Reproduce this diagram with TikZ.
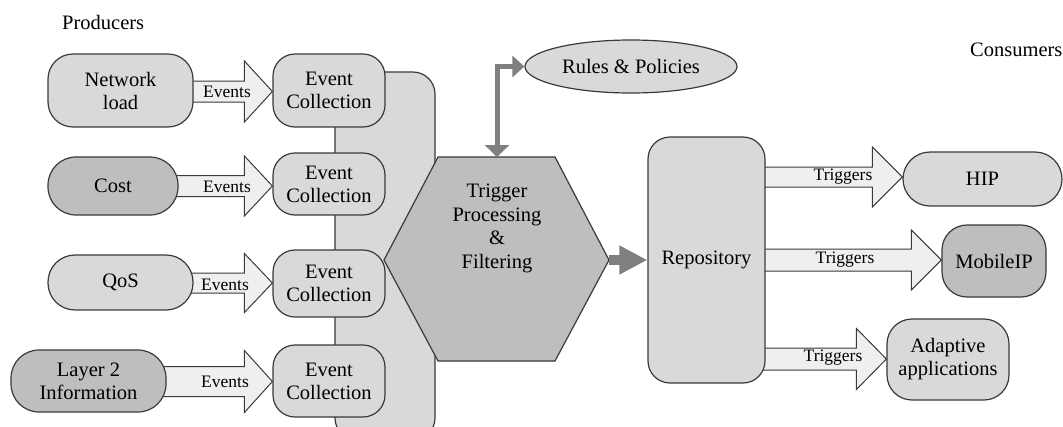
\documentclass[tikz,border=0pt]{standalone}
\usepackage{fontspec}
\setmainfont{Liberation Serif}
\usetikzlibrary{arrows.meta,shapes.geometric,calc}
\pgfdeclarelayer{bg}
\pgfsetlayers{bg,main}
\definecolor{lightfill}{HTML}{D9D9D9}
\definecolor{darkfill}{HTML}{BEBEBE}
\definecolor{arrfill}{HTML}{EFEFEF}
\definecolor{edgecol}{HTML}{3A3A3A}
\definecolor{flowcol}{HTML}{7F7F7F}
% block arrow: #1 from node, #2 to node, #3 y centre, #4 shaft half, #5 head half, #6 head length
\newcommand{\blockarr}[6]{%
 \draw[barrow] let \p1=(#1.east), \p2=(#2.west) in
 ({\x1-6pt},{-(#3-#4)*1pt}) -- ({\x2-#6*1pt},{-(#3-#4)*1pt}) -- ({\x2-#6*1pt},{-(#3-#5)*1pt})
 -- (\x2,{-#3*1pt}) -- ({\x2-#6*1pt},{-(#3+#5)*1pt}) -- ({\x2-#6*1pt},{-(#3+#4)*1pt})
 -- ({\x1-6pt},{-(#3+#4)*1pt}) -- cycle;}
\begin{document}
\begin{tikzpicture}[x=1pt,y=-1pt,
 box/.style={draw=edgecol, line width=1.2pt, rectangle, inner sep=0pt, align=center, font=\fontsize{20.5}{23}\selectfont},
 lightbox/.style={box, fill=lightfill},
 darkbox/.style={box, fill=darkfill},
 barrow/.style={draw=edgecol, fill=arrfill, line width=1pt, line join=miter},
 lbl/.style={font=\fontsize{17.5}{20}\selectfont, inner sep=0pt},
 plain/.style={font=\fontsize{20.5}{23}\selectfont, inner sep=0pt},
 flowline/.style={draw=flowcol}
]
\useasboundingbox (0,0) rectangle (1063,426);

% titles
\node[plain, anchor=west] (prod) at (62,22) {Producers};
\node[plain, anchor=west] (cons) at (970,50) {Consumers};

% producers
\node[lightbox, minimum width=145pt, minimum height=73pt, rounded corners=25pt] (nl) at (120.5,90.5) {Network\\load};
\node[darkbox, minimum width=130pt, minimum height=58pt, rounded corners=28pt] (cost) at (113,186) {Cost};
\node[lightbox, minimum width=145pt, minimum height=55pt, rounded corners=27pt] (qos) at (120.5,282.5) {QoS};
\node[darkbox, minimum width=155pt, minimum height=62pt, rounded corners=28pt] (l2) at (88.5,381) {Layer 2\\Information};

% event collection
\node[lightbox, minimum width=112pt, minimum height=73pt, rounded corners=22pt] (ec1) at (329,90.5) {Event\\Collection};
\node[lightbox, minimum width=112pt, minimum height=62pt, rounded corners=22pt] (ec2) at (329,184) {Event\\Collection};
\node[lightbox, minimum width=112pt, minimum height=67pt, rounded corners=22pt] (ec3) at (329,283.5) {Event\\Collection};
\node[lightbox, minimum width=112pt, minimum height=72pt, rounded corners=22pt] (ec4) at (329,381) {Event\\Collection};

% hexagon
\draw[draw=edgecol, line width=1.2pt, fill=darkfill] (438,157) -- (555,157) -- (609,260) coordinate (hexR)
  -- (555,361) -- (438,361) -- (384,260) -- cycle;
\coordinate (hexTop) at (497,157);
\node[plain, align=center, font=\fontsize{20.5}{23.7}\selectfont] (tpf) at (497,228.5) {Trigger\\Processing\\\&\\Filtering};

% rules
\node[ellipse, draw=edgecol, line width=1.2pt, fill=lightfill, minimum width=212pt, minimum height=53pt, inner sep=0pt, font=\fontsize{20.5}{23}\selectfont] (rules) at (631,66.5) {Rules \& Policies};

% repository and consumers
\node[lightbox, minimum width=117pt, minimum height=246pt, rounded corners=22pt] (repo) at (706.5,260) {Repository};
\node[lightbox, minimum width=159pt, minimum height=54pt, rounded corners=27pt] (hip) at (982.5,179) {HIP};
\node[darkbox, minimum width=104pt, minimum height=72pt, rounded corners=25pt] (mip) at (994,261) {MobileIP};
\node[lightbox, minimum width=122pt, minimum height=81pt, rounded corners=25pt] (adapt) at (948,359.5) {Adaptive\\applications};

% flow arrows
\draw[flowline, line width=10pt, -{Triangle[length=28pt,width=27pt]}] (hexR) -- (repo.west);
\draw[flowline, line width=5pt, {Triangle[length=12pt,width=24pt]}-{Triangle[length=12pt,width=21pt]}] (hexTop) |- (rules.west);

\begin{pgfonlayer}{bg}
\fill[white] (0,0) rectangle (1063,426);
\begin{scope}
\clip (0,0) rectangle (1063,426);
\draw[draw=edgecol, line width=1.2pt, fill=lightfill, rounded corners=22pt] (335,72) rectangle (435,440);
\end{scope}
\blockarr{nl}{ec1}{91.5}{10.5}{30.5}{28}
\blockarr{cost}{ec2}{186}{10.5}{30}{28}
\blockarr{qos}{ec3}{283}{10}{29.5}{28}
\blockarr{l2}{ec4}{381.5}{15}{31}{28}
\blockarr{repo}{hip}{177}{10}{30}{30}
\blockarr{repo}{mip}{260}{11}{30}{30}
\blockarr{repo}{adapt}{359}{11}{30.5}{30}
\end{pgfonlayer}

% arrow labels
\node[lbl] (ev1) at (227,92) {Events};
\node[lbl] (ev2) at (227,187) {Events};
\node[lbl] (ev3) at (225,285) {Events};
\node[lbl] (ev4) at (225,382) {Events};
\node[lbl] (tr1) at (843,177) {Triggers};
\node[lbl] (tr2) at (845,260) {Triggers};
\node[lbl] (tr3) at (833,358) {Triggers};
\end{tikzpicture}
\end{document}
